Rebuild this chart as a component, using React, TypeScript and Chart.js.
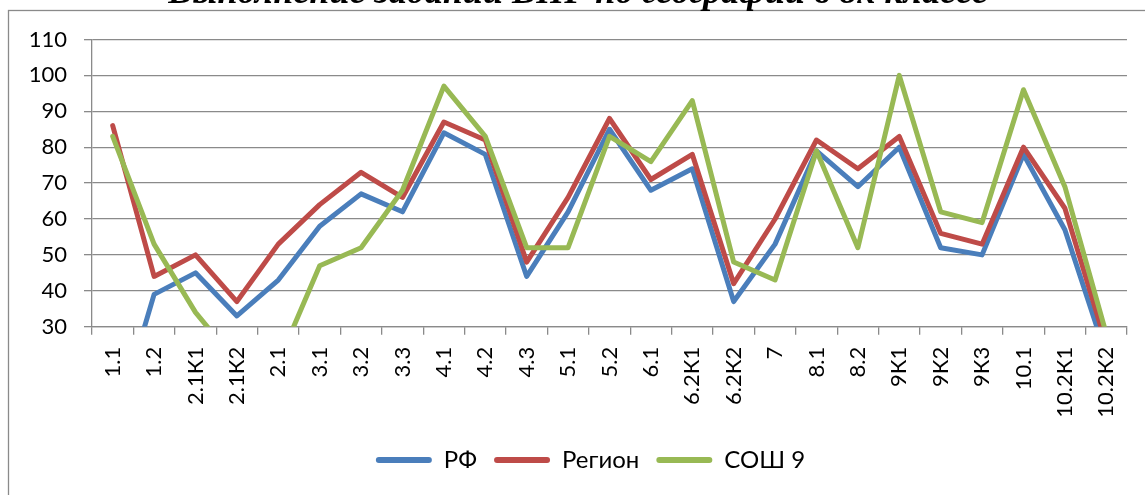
import React, { useEffect, useRef } from "react";
import { Chart, registerables } from "chart.js";

Chart.register(...registerables);

const TITLE = "Выполнение заданий ВПР по географии в 8х классе";

const CATEGORIES = [
  "1.1", "1.2", "2.1К1", "2.1К2", "2.1", "3.1", "3.2", "3.3", "4.1", "4.2",
  "4.3", "5.1", "5.2", "6.1", "6.2К1", "6.2К2", "7", "8.1", "8.2", "9К1",
  "9К2", "9К3", "10.1", "10.2К1", "10.2К2",
];

const SERIES_NAMES = ["РФ", "Регион", "СОШ 9"];

const RF = [0, 39, 45, 33, 43, 58, 67, 62, 84, 78, 44, 62, 85, 68, 74, 37, 53, 79, 69, 80, 52, 50, 78, 57, 22];
const REGION = [86, 44, 50, 37, 53, 64, 73, 66, 87, 82, 48, 66, 88, 71, 78, 42, 60, 82, 74, 83, 56, 53, 80, 63, 25];
const SOSH9 = [83, 53, 34, 20, 20, 47, 52, 68, 97, 83, 52, 52, 83, 76, 93, 48, 43, 79, 52, 100, 62, 59, 96, 69, 28];

const Y_MIN = 30;
const Y_MAX = 110;
const Y_STEP = 10;

const COLORS = ["#4A7EBB", "#BE4B48", "#98B954"];
const GRID = "#8a8a8a";
const FONT = "Lato";

const W = 1145;
const H = 495;

const framePlugin = {
  id: "frameAndTitle",
  afterLayout(chart: any) {
    const lg = chart.legend;
    if (lg) {
      lg.left += 16;
      lg.right += 16;
    }
  },
  beforeDraw(chart: any) {
    const ctx = chart.ctx;
    ctx.save();
    ctx.strokeStyle = GRID;
    ctx.lineWidth = 1.3;
    ctx.strokeRect(8.5, 10.5, W + 20, H + 20);
    ctx.restore();
  },
  afterDraw(chart: any) {
    const ctx = chart.ctx;
    ctx.save();
    ctx.font = `italic bold 32px "Liberation Serif"`;
    const w = ctx.measureText(TITLE).width;
    const size = (32 * 820) / w;
    ctx.font = `italic bold ${size}px "Liberation Serif"`;
    ctx.fillStyle = "#000";
    ctx.textAlign = "center";
    ctx.textBaseline = "alphabetic";
    ctx.fillText(TITLE, 578, 3);
    ctx.restore();
  },
};

export default function App() {
  const ref = useRef<HTMLCanvasElement | null>(null);

  useEffect(() => {
    if (!ref.current) return;
    const seriesData = [RF, REGION, SOSH9];
    const chart = new Chart(ref.current, {
      type: "line",
      data: {
        labels: CATEGORIES,
        datasets: seriesData.map((d, i) => ({
          label: SERIES_NAMES[i],
          data: d,
          borderColor: COLORS[i],
          backgroundColor: COLORS[i],
          borderWidth: 5,
          pointRadius: 0,
          pointHoverRadius: 0,
          tension: 0,
          fill: false,
          borderJoinStyle: "round" as const,
          borderCapStyle: "round" as const,
          clip: 0,
          order: 3 - i,
        })),
      },
      options: {
        animation: false,
        responsive: false,
        devicePixelRatio: 1,
        layout: { padding: { left: 20, right: 16, top: 39.5, bottom: 13 } },
        plugins: {
          title: { display: false },
          tooltip: { enabled: false },
          legend: {
            display: true,
            position: "bottom",
            labels: {
              font: { family: FONT, size: 24 },
              color: "#000",
              boxWidth: 56,
              boxHeight: 6,
              padding: 17,
              useBorderRadius: true,
              borderRadius: 3,
              generateLabels: (c: any) =>
                c.data.datasets.map((ds: any, i: number) => ({
                  text: ds.label,
                  fillStyle: ds.borderColor,
                  strokeStyle: ds.borderColor,
                  lineWidth: 0,
                  hidden: !c.isDatasetVisible(i),
                  datasetIndex: i,
                  borderRadius: 3,
                  fontColor: "#000",
                })),
            },
          },
        },
        scales: {
          x: {
            type: "category",
            offset: true,
            grid: {
              display: true,
              offset: true,
              drawOnChartArea: false,
              drawTicks: true,
              tickLength: 8,
              color: GRID,
              lineWidth: 1.3,
            },
            border: { display: true, color: GRID, width: 1.3 },
            ticks: {
              autoSkip: false,
              minRotation: 90,
              maxRotation: 90,
              padding: 12,
              color: "#000",
              font: { family: FONT, size: 22 },
            },
            afterFit: (scale: any) => {
              scale.height = 104.3;
            },
          },
          y: {
            min: Y_MIN,
            max: Y_MAX,
            grid: {
              display: true,
              drawTicks: true,
              tickLength: 8,
              color: GRID,
              lineWidth: 1.3,
            },
            border: { display: true, color: GRID, width: 1.3 },
            ticks: {
              stepSize: Y_STEP,
              padding: 17,
              color: "#000",
              font: { family: FONT, size: 22 },
            },
            afterFit: (scale: any) => {
              scale.width = 72;
            },
          },
        },
      },
      plugins: [framePlugin],
    });
    return () => chart.destroy();
  }, []);

  return (
    <div style={{ position: "fixed", left: 0, top: 0, width: W, height: H, background: "#fff" }}>
      <canvas ref={ref} width={W} height={H} style={{ display: "block" }} />
    </div>
  );
}
